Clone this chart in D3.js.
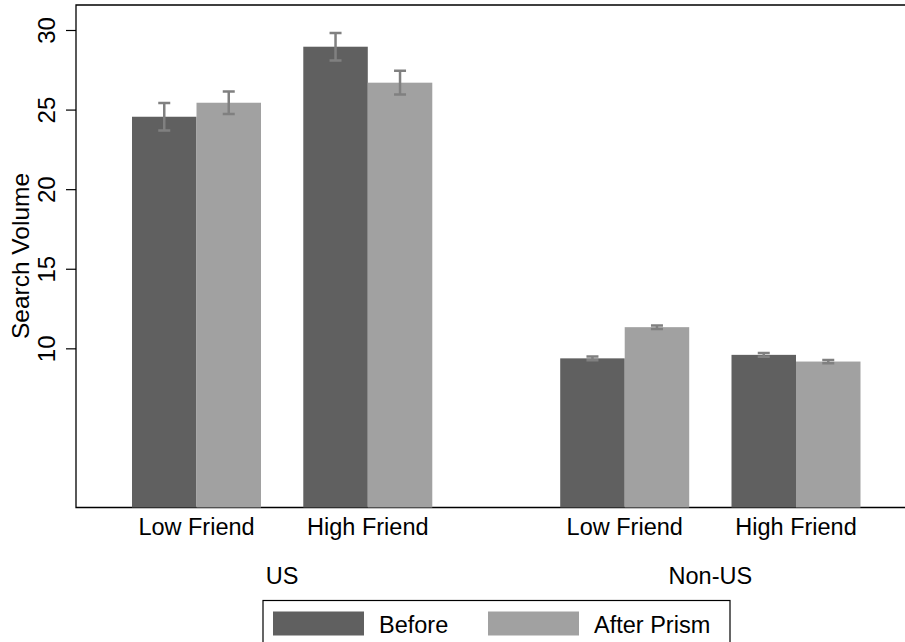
<!DOCTYPE html>
<html>
<head>
<meta charset="utf-8">
<script src="https://cdn.jsdelivr.net/npm/d3@7"></script>
<style>
  body { margin: 0; background: #fff; }
  svg { display: block; font-family: "Liberation Sans", Arial, sans-serif; }
</style>
</head>
<body>
<svg id="chart" width="905" height="642"></svg>
<script>
const regions = ['US', 'Non-US']
const friendLevels = ['Low Friend', 'High Friend']
const series = ['Before', 'After Prism']
const beforeMeans = [24.55, 28.95, 9.37, 9.59]
const afterMeans = [25.43, 26.69, 11.33, 9.17]
const beforeErrors = [0.86, 0.86, 0.12, 0.12]
const afterErrors = [0.70, 0.75, 0.11, 0.1]
const yTicks = [10, 15, 20, 25, 30]

const colors = { 'Before': '#606060', 'After Prism': '#a1a1a1' }
const errColor = '#808080'

const svg = d3.select('#chart')
const plot = { left: 76, right: 905, top: 5, bottom: 507.5 }

// 0 sits on the bottom frame, 30 at y = 30
const y = d3.scaleLinear().domain([0, 30]).range([plot.bottom, 30])

// pair centres: two pairs per region, wider gap between regions
const slot = d3.scaleLinear().domain([0, 3.5]).range([196.5, 796])
const barWidth = 64.5
const sub = d3.scaleBand().domain(series).range([-barWidth, barWidth])

const cells = []
regions.forEach((region, r) => {
  friendLevels.forEach((friend, k) => {
    const i = r * 2 + k
    cells.push({ region, friend, pos: r * 2.5 + k, values: [
      { s: 'Before', mean: beforeMeans[i], err: beforeErrors[i] },
      { s: 'After Prism', mean: afterMeans[i], err: afterErrors[i] }
    ] })
  })
})

// frame: left, top, bottom
svg.append('path')
  .attr('d', `M${plot.right},${plot.top}H${plot.left}V${plot.bottom}H${plot.right}`)
  .attr('fill', 'none')
  .attr('stroke', '#000')
  .attr('stroke-width', 1.3)

// y axis
const yAxis = d3.axisLeft(y).tickValues(yTicks).tickSize(10).tickSizeOuter(0)
const yg = svg.append('g')
  .attr('transform', `translate(${plot.left},0)`)
  .call(yAxis)
yg.select('.domain').remove()
yg.selectAll('.tick line').attr('stroke', '#000').attr('stroke-width', 1.2)
yg.selectAll('.tick text')
  .attr('x', 0).attr('y', 0).attr('dy', 0)
  .attr('transform', 'translate(-30,0) rotate(-90)')
  .attr('text-anchor', 'middle')
  .attr('dominant-baseline', 'central')
  .attr('font-size', 24)
  .attr('font-family', '"Liberation Sans", Arial, sans-serif')
  .attr('fill', '#000')

svg.append('text')
  .attr('transform', `translate(29,256) rotate(-90)`)
  .attr('text-anchor', 'middle')
  .attr('font-size', 24.5)
  .text('Search Volume')

// bars
const groups = svg.append('g').selectAll('g.cell')
  .data(cells)
  .join('g')
  .attr('class', 'cell')
  .attr('transform', d => `translate(${slot(d.pos)},0)`)

groups.selectAll('rect')
  .data(d => d.values)
  .join('rect')
  .attr('x', d => sub(d.s))
  .attr('width', sub.bandwidth())
  .attr('y', d => y(d.mean))
  .attr('height', d => y(0) - y(d.mean))
  .attr('fill', d => colors[d.s])

// error bars
const capHalf = 6
groups.selectAll('path.err')
  .data(d => d.values)
  .join('path')
  .attr('class', 'err')
  .attr('d', d => {
    const cx = sub(d.s) + sub.bandwidth() / 2
    const y1 = y(d.mean + d.err)
    const y2 = y(d.mean - d.err)
    return `M${cx - capHalf},${y1}H${cx + capHalf}M${cx},${y1}V${y2}M${cx - capHalf},${y2}H${cx + capHalf}`
  })
  .attr('fill', 'none')
  .attr('stroke', errColor)
  .attr('stroke-width', 2.5)

// category labels
groups.append('text')
  .attr('y', 535)
  .attr('text-anchor', 'middle')
  .attr('font-size', 23.5)
  .text(d => d.friend)

svg.append('g').selectAll('text')
  .data(regions)
  .join('text')
  .attr('x', (d, r) => (slot(r * 2.5) + slot(r * 2.5 + 1)) / 2)
  .attr('y', 584)
  .attr('text-anchor', 'middle')
  .attr('font-size', 23.5)
  .text(d => d)

// legend
const legend = svg.append('g')
legend.append('rect')
  .attr('x', 263).attr('y', 600.5)
  .attr('width', 467).attr('height', 50)
  .attr('fill', '#fff').attr('stroke', '#000').attr('stroke-width', 1.2)

const legendX = [273, 488]
const items = legend.selectAll('g.item')
  .data(series)
  .join('g')
  .attr('class', 'item')
  .attr('transform', (d, i) => `translate(${legendX[i]},611.5)`)
items.append('rect')
  .attr('width', 91).attr('height', 24)
  .attr('fill', d => colors[d])
items.append('text')
  .attr('x', 106).attr('y', 21.5)
  .attr('font-size', 23.5)
  .text(d => d)
</script>
</body>
</html>
